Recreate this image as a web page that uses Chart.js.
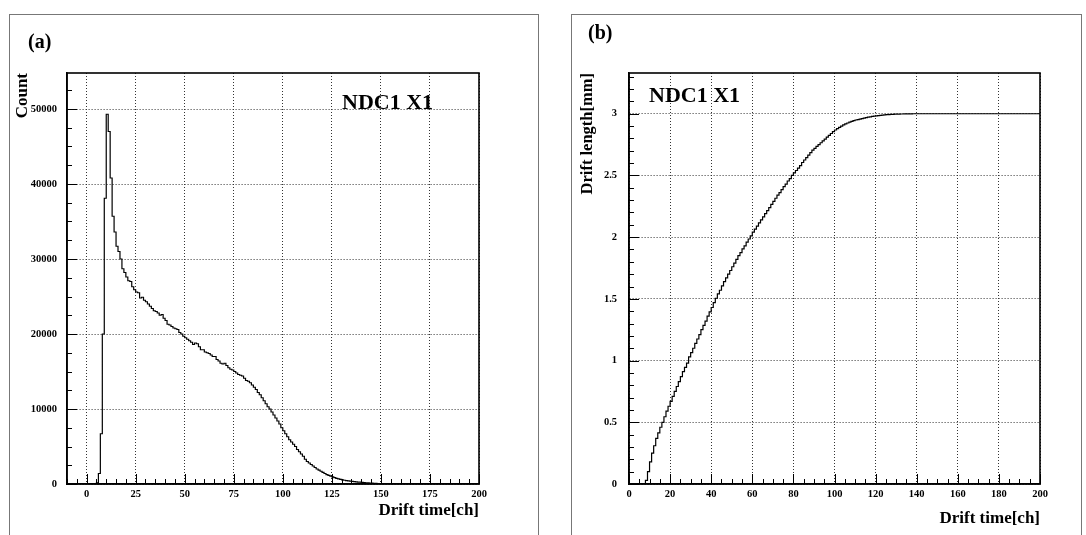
<!DOCTYPE html>
<html>
<head>
<meta charset="utf-8">
<script src="https://cdn.jsdelivr.net/npm/chart.js"></script>
<style>
  html, body { margin: 0; padding: 0; background: #fff; overflow: hidden; }
  #wrap { position: relative; width: 1086px; height: 535px; overflow: hidden; background: #fff; }
  .frame { position: absolute; top: 14px; height: 560px; border-left: 1.5px solid #777; border-top: 1.5px solid #777; border-right: 1.5px solid #777; box-sizing: border-box; }
  canvas { position: absolute; top: 0; }
  .lbl { position: absolute; font-family: 'Liberation Serif', 'Times New Roman', serif; font-weight: bold; color: #000; line-height: 1; white-space: nowrap; }
</style>
</head>
<body>
<div id="wrap">
  <div class="frame" style="left:9px; width:530px;"></div>
  <div class="frame" style="left:571px; width:511px;"></div>
  <canvas id="panelA" width="543" height="535" style="left:0"></canvas>
  <canvas id="panelB" width="543" height="535" style="left:543px"></canvas>
  <div class="lbl" style="left:28px; top:31px; font-size:20px;">(a)</div>
  <div class="lbl" style="left:588px; top:22px; font-size:20px;">(b)</div>
  <div class="lbl" style="left:342px; top:91px; font-size:22px;">NDC1 X1</div>
  <div class="lbl" style="left:649px; top:84px; font-size:22px;">NDC1 X1</div>
</div>
<script>
// Drift-time spectrum, 1-channel bins starting at channel -10
const timeLowEdge = -10;
const driftTimeCounts = [
  0,0,0,0,0,0,0,0,0,0,
  0,0,0,0,0,0,150,1400,6700,20000,
  38100,49300,47000,40800,35700,33600,31700,31000,30000,28700,
  28200,27600,27100,27000,26300,25900,25600,25500,24800,24900,
  24500,24300,24000,23700,23400,23100,23000,22800,22500,22600,
  22100,21800,21300,21200,21000,20800,20700,20600,20200,20000,
  19700,19500,19300,19100,18900,18600,18800,18700,18300,17900,
  17900,17600,17500,17400,17200,17000,17000,16600,16400,16100,
  16000,16100,15800,15500,15300,15200,15000,14800,14600,14500,
  14400,14100,13800,13700,13500,13200,12900,12600,12200,11900,
  11500,11100,10700,10300,10000,9600,9200,8800,8400,8000,
  7500,7100,6700,6300,5900,5600,5300,5000,4600,4300,
  4000,3700,3300,3000,2800,2600,2400,2200,2000,1850,
  1700,1550,1400,1250,1150,1050,950,850,750,680,
  620,560,500,460,420,380,350,320,290,260,
  240,210,190,170,150,130,110,90,75,60,
  45,35,25,18,12,8,0,0,0,0,
  0,0,0,0,0,0,0,0,0,0,
  0,0,0,0,0,0,0,0,0,0,
  0,0,0,0,0,0,0,0,0,0,
  0,0,0,0,0,0,0,0,0,0
];

// Drift time -> drift length conversion, 1-channel bins from channel 0
const lengthLowEdge = 0;
const driftLengthMm = [
  0,0,0,0,0,0,0,0,0,0.03,
  0.10,0.18,0.25,0.31,0.37,0.415,0.46,0.50,0.545,0.59,
  0.63,0.67,0.71,0.75,0.79,0.83,0.87,0.91,0.945,0.98,
  1.03,1.065,1.10,1.14,1.175,1.21,1.25,1.285,1.32,1.36,
  1.395,1.43,1.47,1.505,1.54,1.57,1.605,1.64,1.67,1.70,
  1.73,1.76,1.79,1.82,1.85,1.875,1.905,1.93,1.96,1.985,
  2.01,2.04,2.065,2.09,2.115,2.14,2.165,2.19,2.215,2.24,
  2.265,2.29,2.315,2.34,2.36,2.385,2.41,2.43,2.455,2.475,
  2.50,2.52,2.54,2.56,2.58,2.605,2.625,2.645,2.665,2.685,
  2.705,2.72,2.735,2.75,2.765,2.78,2.795,2.81,2.825,2.84,
  2.855,2.868,2.88,2.89,2.90,2.91,2.918,2.925,2.932,2.938,
  2.944,2.949,2.953,2.957,2.961,2.965,2.968,2.972,2.975,2.978,
  2.98,2.983,2.985,2.987,2.989,2.99,2.992,2.993,2.994,2.995,
  2.996,2.997,2.997,2.998,2.998,2.999,2.999,2.999,2.999,3.0,
  3.0,3.0,3.0,3.0,3.0,3.0,3.0,3.0,3.0,3.0,
  3.0,3.0,3.0,3.0,3.0,3.0,3.0,3.0,3.0,3.0,
  3.0,3.0,3.0,3.0,3.0,3.0,3.0,3.0,3.0,3.0,
  3.0,3.0,3.0,3.0,3.0,3.0,3.0,3.0,3.0,3.0,
  3.0,3.0,3.0,3.0,3.0,3.0,3.0,3.0,3.0,3.0,
  3.0,3.0,3.0,3.0,3.0,3.0,3.0,3.0,3.0,3.0
];

// Labelled tick values
const timeTicksA = [0, 25, 50, 75, 100, 125, 150, 175, 200];
const countTicks = [0, 10000, 20000, 30000, 40000, 50000];
const timeTicksB = [0, 20, 40, 60, 80, 100, 120, 140, 160, 180, 200];
const lengthTicks = [0, 0.5, 1, 1.5, 2, 2.5, 3];

const SERIF = "'Liberation Serif', 'Times New Roman', serif";
Chart.defaults.font.family = SERIF;
Chart.defaults.color = '#000';

// Histogram outline: one point per lower bin edge, plus the last upper edge
function histPoints(values, lowEdge) {
  const pts = values.map((v, i) => ({ x: lowEdge + i, y: v }));
  pts.push({ x: lowEdge + values.length, y: values[values.length - 1] });
  return pts;
}

// Inside-pointing major/minor ticks and the closed frame round the plot area
const insideTicks = {
  id: 'insideTicks',
  afterDraw(chart, args, o) {
    const { ctx, chartArea: a, scales: { x, y } } = chart;
    const near = (v, step) => Math.abs(v / step - Math.round(v / step)) < 1e-6;
    ctx.save();
    ctx.strokeStyle = '#000';
    ctx.lineWidth = 1;
    ctx.beginPath();
    const nx = Math.round((x.max - x.min) / o.xMinor);
    for (let k = 0; k <= nx; k++) {
      const v = x.min + k * o.xMinor;
      const len = near(v, o.xMajor) ? 10 : 5;
      const px = Math.round(x.getPixelForValue(v)) + 0.5;
      ctx.moveTo(px, a.bottom);
      ctx.lineTo(px, a.bottom - len);
    }
    const ny = Math.floor((y.max - y.min) / o.yMinor + 1e-6);
    for (let k = 0; k <= ny; k++) {
      const v = y.min + k * o.yMinor;
      const len = near(v, o.yMajor) ? 10 : 5;
      const py = Math.round(y.getPixelForValue(v)) + 0.5;
      ctx.moveTo(a.left, py);
      ctx.lineTo(a.left + len, py);
    }
    ctx.stroke();
    ctx.lineWidth = 1.6;
    ctx.strokeRect(a.left, a.top, a.right - a.left, a.bottom - a.top);
    ctx.restore();
  }
};

function makeOptions(cfg) {
  return {
    responsive: false,
    devicePixelRatio: 1,
    animation: false,
    layout: { padding: { top: 73, right: cfg.padRight, left: 0, bottom: 0 } },
    plugins: {
      legend: { display: false },
      tooltip: { enabled: false },
      insideTicks: cfg.ticks
    },
    scales: {
      x: {
        type: 'linear',
        min: cfg.xMin, max: cfg.xMax,
        afterBuildTicks: s => { s.ticks = cfg.xTicks.map(v => ({ value: v })); },
        afterFit: s => { s.height = 51; },
        grid: { color: '#333', lineWidth: 1, drawTicks: false },
        border: { display: true, color: '#000', width: 1.6, dash: [1, 2] },
        ticks: { autoSkip: false, maxRotation: 0, padding: 4, font: { size: 10.5, weight: 'bold' }, callback: v => String(v) },
        title: { display: true, text: 'Drift time[ch]', align: 'end', font: { size: 17, weight: 'bold' }, padding: { top: 0, bottom: cfg.xTitlePad } }
      },
      y: {
        type: 'linear',
        min: 0, max: cfg.yMax,
        afterBuildTicks: s => { s.ticks = cfg.yTicks.map(v => ({ value: v })); },
        afterFit: s => { s.width = cfg.yWidth; },
        grid: { color: '#333', lineWidth: 1, drawTicks: false },
        border: { display: true, color: '#000', width: 1.6, dash: [1, 2] },
        ticks: { autoSkip: false, padding: cfg.yTickPad, font: { size: 10.5, weight: 'bold' }, callback: v => String(v) },
        title: { display: true, text: cfg.yTitle, align: 'end', font: { size: cfg.yTitleSize, weight: 'bold' }, padding: { top: cfg.yTitlePad, bottom: 0 } }
      }
    }
  };
}

new Chart(document.getElementById('panelA'), {
  type: 'line',
  data: {
    datasets: [{
      data: histPoints(driftTimeCounts, timeLowEdge),
      stepped: 'after',
      borderColor: '#000',
      borderWidth: 1.2,
      pointRadius: 0,
      fill: false
    }]
  },
  options: makeOptions({
    padRight: 64, xMin: -10, xMax: 200, yMax: 54800,
    xTicks: timeTicksA, yTicks: countTicks,
    yWidth: 67, yTickPad: 10, yTitle: 'Count', yTitleSize: 17, yTitlePad: 12,
    xTitlePad: 14,
    ticks: { xMinor: 5, xMajor: 25, yMinor: 2500, yMajor: 10000 }
  }),
  plugins: [insideTicks]
});

new Chart(document.getElementById('panelB'), {
  type: 'line',
  data: {
    datasets: [{
      data: histPoints(driftLengthMm, lengthLowEdge),
      stepped: 'after',
      borderColor: '#000',
      borderWidth: 1.2,
      pointRadius: 0,
      fill: false
    }]
  },
  options: makeOptions({
    padRight: 46, xMin: 0, xMax: 200, yMax: 3.33,
    xTicks: timeTicksB, yTicks: lengthTicks,
    yWidth: 86, yTickPad: 12, yTitle: 'Drift length[mm]', yTitleSize: 16.5, yTitlePad: 35,
    xTitlePad: 6,
    ticks: { xMinor: 5, xMajor: 20, yMinor: 0.1, yMajor: 0.5 }
  }),
  plugins: [insideTicks]
});
</script>
</body>
</html>
